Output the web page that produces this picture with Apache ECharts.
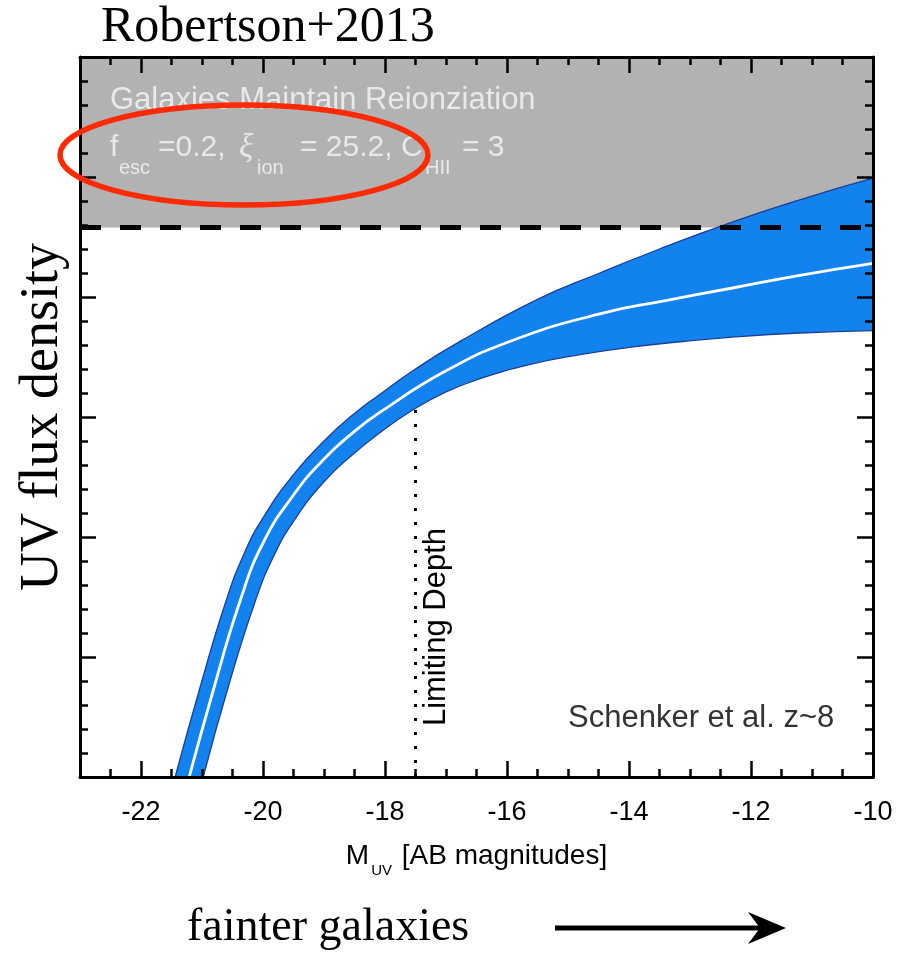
<!DOCTYPE html>
<html>
<head>
<meta charset="utf-8">
<script src="https://cdn.jsdelivr.net/npm/echarts@6/dist/echarts.min.js"></script>
<style>
  html, body { margin: 0; padding: 0; background: #ffffff; }
  #chart { width: 898px; height: 961px; }
</style>
</head>
<body>
<div id="chart"></div>
<script>
// Absolute UV magnitude range and the labelled ticks
const magRange = [-23, -10];
const magTickLabels = [-22, -20, -18, -16, -14, -12, -10];
// Flux density axis (arbitrary units, no labels)
const fluxRange = [0, 6];

// Flux density required for galaxies to maintain reionization
const reionLevel = 4.58;

// Cumulative UV flux density band [M_UV, flux]: upper and lower envelopes
const upperBound = [
  [-21.44, 0.0], [-21.03, 0.75], [-20.61, 1.46], [-20.31, 1.86], [-20.0, 2.16],
  [-19.5, 2.52], [-19.0, 2.80], [-18.5, 3.03], [-18.08, 3.19], [-17.5, 3.40],
  [-16.77, 3.63], [-15.5, 3.98], [-14.48, 4.2], [-13.5, 4.40], [-12.39, 4.61],
  [-11.2, 4.81], [-10.0, 4.99]
];
const lowerBound = [
  [-20.98, 0.0], [-20.57, 0.75], [-20.13, 1.46], [-19.83, 1.835], [-19.5, 2.13],
  [-19.0, 2.46], [-18.5, 2.70], [-18.08, 2.87], [-17.54, 3.06], [-17.0, 3.21],
  [-16.44, 3.32], [-15.6, 3.44], [-14.8, 3.52], [-14.0, 3.58], [-13.16, 3.627],
  [-12.3, 3.666], [-11.2, 3.70], [-10.0, 3.72]
];
// Central estimate
const centralCurve = [
  [-21.21, 0.0], [-20.8, 0.75], [-20.38, 1.46], [-20.0, 1.95], [-19.5, 2.35],
  [-19.0, 2.65], [-18.5, 2.88], [-18.08, 3.04], [-17.0, 3.385], [-15.9, 3.64],
  [-14.48, 3.86], [-13.4, 3.97], [-12.3, 4.075], [-11.2, 4.18], [-10.0, 4.28]
];
// Survey limiting depth and where it meets the band
const limitingDepth = [[-17.5, 0], [-17.5, 3.08]];

const sans = "'Liberation Sans', Arial, Helvetica, sans-serif";
const serif = "'Liberation Serif', 'Times New Roman', serif";
const black = '#000000';
const boxText = '#e9e9e9';

function minorSteps(lo, hi, step) {
  const out = [];
  for (let v = lo; v <= hi + 1e-9; v += step) out.push(+v.toFixed(3));
  return out;
}
const magMinor = minorSteps(magRange[0], magRange[1], 0.5);

function xAxisDef(position, major, withLine) {
  return {
    type: 'value', min: magRange[0], max: magRange[1], position: position, z: 10,
    axisLine: { show: withLine, onZero: false, lineStyle: { color: black, width: 3 } },
    axisTick: {
      show: true, inside: true, length: major ? 16 : 8,
      customValues: major ? magTickLabels : magMinor,
      lineStyle: { color: black, width: 2.5 }
    },
    axisLabel: { show: false },
    splitLine: { show: false }
  };
}
function yAxisDef(position) {
  return {
    type: 'value', min: fluxRange[0], max: fluxRange[1], interval: 1, position: position, z: 10,
    axisLine: { show: true, onZero: false, lineStyle: { color: black, width: 3 } },
    axisTick: { show: true, inside: true, length: 16, lineStyle: { color: black, width: 2.5 } },
    minorTick: { show: true, splitNumber: 5, length: 8, lineStyle: { color: black, width: 2.5 } },
    axisLabel: { show: false },
    splitLine: { show: false },
    minorSplitLine: { show: false }
  };
}

const bottomMajor = xAxisDef('bottom', true, true);
bottomMajor.axisLabel = {
  show: true, customValues: magTickLabels, fontFamily: sans, fontSize: 27,
  color: black, margin: 22
};
bottomMajor.name = '{m|M}{s|UV}{t| [AB magnitudes]}';
bottomMajor.nameLocation = 'middle';
bottomMajor.nameGap = 64;
bottomMajor.nameTextStyle = {
  rich: {
    m: { fontFamily: sans, fontSize: 28, color: black, lineHeight: 30 },
    s: { fontFamily: sans, fontSize: 15, color: black, lineHeight: 15, padding: [30, 2, 0, 2] },
    t: { fontFamily: sans, fontSize: 28, color: black, lineHeight: 30 }
  }
};

const leftAxis = yAxisDef('left');
leftAxis.name = 'UV flux density';
leftAxis.nameLocation = 'middle';
leftAxis.nameGap = 10;
leftAxis.nameTextStyle = { fontFamily: serif, fontSize: 54, color: black };

// Pieces of the parameter line in the grey box: [text, x, kind]
const paramPieces = [
  ['f', 110, 'main'], ['esc', 119, 'sub'], ['=0.2,', 158, 'main'],
  ['ξ', 239, 'greek'], ['ion', 257, 'sub'], ['= 25.2, C', 300, 'main'],
  ['HII', 425, 'sub'], ['= 3', 462, 'main']
];
const paramGraphics = paramPieces.map(function (p) {
  const kind = p[2];
  const font = kind === 'sub' ? '20px ' + sans
    : kind === 'greek' ? 'italic 33px ' + serif : '30px ' + sans;
  return {
    type: 'text', x: p[1], y: kind === 'sub' ? 168 : 148, z: 20, silent: true,
    style: { text: p[0], fill: boxText, font: font, verticalAlign: 'middle' }
  };
});

const chart = echarts.init(document.getElementById('chart'), null, { renderer: 'canvas' });

chart.setOption({
  animation: false,
  backgroundColor: '#ffffff',
  title: {
    text: 'Robertson+2013', left: 96, top: -2,
    textStyle: { fontFamily: serif, fontSize: 50, fontWeight: 'normal', color: black }
  },
  grid: { left: 80, right: 25, top: 57, bottom: 184 },
  xAxis: [
    bottomMajor,
    xAxisDef('bottom', false, false),
    xAxisDef('top', true, true),
    xAxisDef('top', false, false)
  ],
  yAxis: [leftAxis, yAxisDef('right')],
  series: [
    {
      // grey region above the reionization requirement
      type: 'line', z: 1, silent: true, symbol: 'none',
      data: [[magRange[0], reionLevel], [magRange[1], reionLevel]],
      lineStyle: { width: 0 },
      areaStyle: { color: '#b2b2b2', opacity: 1, origin: 'end' }
    },
    {
      type: 'line', z: 2, silent: true, symbol: 'none', smooth: 0.5,
      data: upperBound,
      lineStyle: { color: '#1b3e96', width: 1.3 },
      areaStyle: { color: '#1283ee', opacity: 1, origin: 'start' }
    },
    {
      type: 'line', z: 3, silent: true, symbol: 'none', smooth: 0.5,
      data: lowerBound,
      lineStyle: { color: '#1b3e96', width: 1.3 },
      areaStyle: { color: '#ffffff', opacity: 1, origin: 'start' }
    },
    {
      type: 'line', z: 4, silent: true, symbol: 'none', smooth: 0.5,
      data: centralCurve,
      lineStyle: { color: '#ffffff', width: 2.8 }
    },
    {
      type: 'line', z: 4, silent: true, symbol: 'none',
      data: limitingDepth,
      lineStyle: { color: black, width: 3, type: [3, 11] }
    },
    {
      type: 'line', z: 5, silent: true, symbol: 'none',
      data: [[magRange[0], reionLevel], [magRange[1], reionLevel]],
      lineStyle: { color: black, width: 5, type: [21, 19] }
    }
  ],
  graphic: [
    {
      type: 'text', left: 110, top: 85, z: 20, silent: true,
      style: { text: 'Galaxies Maintain Reionziation', fill: boxText, font: '31px ' + sans }
    }
  ].concat(paramGraphics, [
    {
      type: 'ellipse', z: 30, silent: true,
      shape: { cx: 244, cy: 155, rx: 184, ry: 50 },
      style: { fill: null, stroke: '#ff2a00', lineWidth: 5.5 }
    },
    {
      type: 'text', x: 568, y: 718, z: 20, silent: true,
      style: { text: 'Schenker et al. z~8', fill: '#333333', font: '31px ' + sans, verticalAlign: 'middle' }
    },
    {
      type: 'text', x: 436, y: 627, rotation: Math.PI / 2, z: 20, silent: true,
      style: { text: 'Limiting Depth', fill: black, font: '31px ' + sans, align: 'center', verticalAlign: 'middle' }
    },
    {
      type: 'text', x: 187, y: 928, z: 20, silent: true,
      style: { text: 'fainter galaxies', fill: black, font: '46px ' + serif, verticalAlign: 'middle' }
    },
    {
      type: 'line', z: 20, silent: true,
      shape: { x1: 555, y1: 928, x2: 770, y2: 928 },
      style: { stroke: black, lineWidth: 5 }
    },
    {
      type: 'polygon', z: 20, silent: true,
      shape: { points: [[786, 928], [748, 912], [760, 928], [748, 944]] },
      style: { fill: black }
    }
  ])
});
</script>
</body>
</html>
